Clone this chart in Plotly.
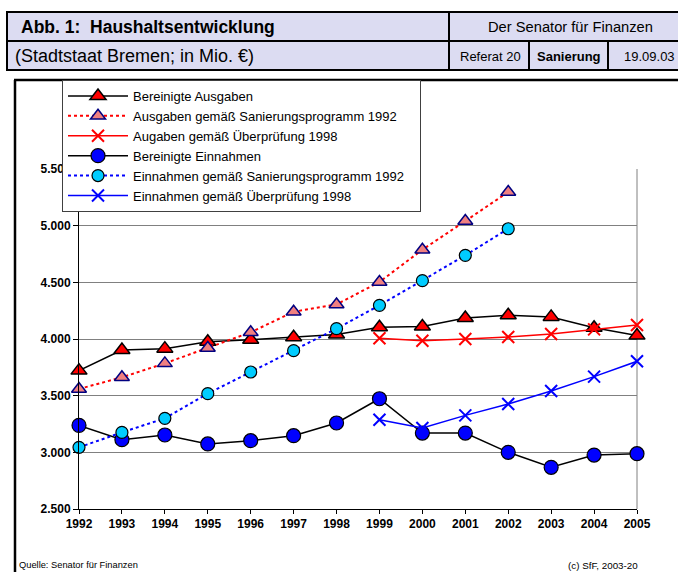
import plotly.graph_objects as go

years = list(range(1992, 2006))
years_san = list(range(1992, 2003))
years_98 = list(range(1999, 2006))

ausgaben = [3721, 3903, 3915, 3976, 3994, 4015, 4040, 4103, 4110, 4186, 4209, 4195, 4100, 4030]
ausgaben_san = [3559, 3662, 3785, 3921, 4059, 4240, 4305, 4503, 4788, 5041, 5297]
ausgaben_98 = [4006, 3985, 4000, 4018, 4044, 4085, 4124]
einnahmen = [3238, 3112, 3153, 3074, 3103, 3147, 3259, 3473, 3170, 3170, 3000, 2868, 2976, 2988]
einnahmen_san = [3044, 3176, 3300, 3518, 3709, 3897, 4091, 4297, 4515, 4738, 4973]
einnahmen_98 = [3288, 3215, 3326, 3426, 3541, 3668, 3803]

ytick_vals = [2500, 3000, 3500, 4000, 4500, 5000, 5500]
ytick_text = ["2.500", "3.000", "3.500", "4.000", "4.500", "5.000", "5.500"]

W, H = 678, 572
L, R, T, B = 79, 637, 169, 509
FONT = "Liberation Sans, Arial"


def px(x):
    return (x - L) / (R - L)


def py(y):
    return (B - y) / (B - T)


fig = go.Figure()

fig.add_trace(go.Scatter(
    x=years, y=ausgaben, name="Bereinigte Ausgaben", mode="lines+markers",
    line=dict(color="black", width=1.5),
    marker=dict(symbol="triangle-up", size=14, color="#ff0000", line=dict(color="black", width=1.5)),
    legendgroup="a", cliponaxis=False))
fig.add_trace(go.Scatter(
    x=years_san, y=ausgaben_san, name="Ausgaben gemäß Sanierungsprogramm 1992", mode="lines+markers",
    line=dict(color="#ff0000", width=2, dash="dot"),
    marker=dict(symbol="triangle-up", size=13, color="#f08080", line=dict(color="#000080", width=1.5)),
    legendgroup="b", cliponaxis=False))
fig.add_trace(go.Scatter(
    x=years_98, y=ausgaben_98, name="Augaben gemäß Überprüfung 1998", mode="lines+markers",
    line=dict(color="#ff0000", width=1.5),
    marker=dict(symbol="x-thin-open", size=12, color="#ff0000", line=dict(color="#ff0000", width=2)),
    legendgroup="c", cliponaxis=False))
fig.add_trace(go.Scatter(
    x=years, y=einnahmen, name="Bereinigte Einnahmen", mode="lines+markers",
    line=dict(color="black", width=1.5),
    marker=dict(symbol="circle", size=14, color="#0000ff", line=dict(color="black", width=1.2)),
    legendgroup="d", cliponaxis=False))
fig.add_trace(go.Scatter(
    x=years_san, y=einnahmen_san,
    name="Einnahmen gemäß Sanierungsprogramm 1992\u00a0\u00a0\u00a0",
    mode="lines+markers",
    line=dict(color="#0000ff", width=2, dash="dot"),
    marker=dict(symbol="circle", size=12, color="#00ccff", line=dict(color="black", width=1.2)),
    legendgroup="e", cliponaxis=False))
fig.add_trace(go.Scatter(
    x=years_98, y=einnahmen_98, name="Einnahmen gemäß Überprüfung 1998", mode="lines+markers",
    line=dict(color="#0000ff", width=1.5),
    marker=dict(symbol="x-thin-open", size=12, color="#0000ff", line=dict(color="#0000ff", width=2)),
    legendgroup="f", cliponaxis=False))

shapes = []
hdr_fill = "#dcdcf2"
cells = [
    (7, 12, 449, 41), (449, 12, 690, 41),
    (7, 41, 449, 70), (449, 41, 529, 70), (529, 41, 608, 70), (608, 41, 690, 70),
]
for x0, y0, x1, y1 in cells:
    shapes.append(dict(type="rect", xref="paper", yref="paper",
                       x0=px(x0), x1=px(x1), y0=py(y1), y1=py(y0),
                       fillcolor=hdr_fill, opacity=1, line=dict(color="black", width=2), layer="above"))
shapes.append(dict(type="line", xref="paper", yref="paper", x0=px(14), x1=px(690), y0=py(80), y1=py(80),
                   line=dict(color="black", width=2.5)))
shapes.append(dict(type="line", xref="paper", yref="paper", x0=px(15), x1=px(15), y0=py(80), y1=py(600),
                   line=dict(color="black", width=2.5)))
shapes.append(dict(type="line", xref="paper", yref="paper", x0=1, x1=1, y0=0, y1=1,
                   line=dict(color="#808080", width=1), layer="below"))

annotations = [
    dict(text="<b>Abb. 1:  Haushaltsentwicklung</b>", x=px(19), y=py(27), xanchor="left", yanchor="middle",
         font=dict(size=17.5, family=FONT, color="black")),
    dict(text="(Stadtstaat Bremen; in Mio. €)", x=px(13), y=py(56), xanchor="left", yanchor="middle",
         font=dict(size=18, family=FONT, color="black")),
    dict(text="Der Senator für Finanzen", x=px(570), y=py(27), xanchor="center", yanchor="middle",
         font=dict(size=14.7, family=FONT, color="black")),
    dict(text="Referat 20", x=px(490), y=py(56), xanchor="center", yanchor="middle",
         font=dict(size=13, family=FONT, color="black")),
    dict(text="<b>Sanierung</b>", x=px(569), y=py(56), xanchor="center", yanchor="middle",
         font=dict(size=13, family=FONT, color="black")),
    dict(text="19.09.03", x=px(649), y=py(56), xanchor="center", yanchor="middle",
         font=dict(size=13, family=FONT, color="black")),
    dict(text="Quelle: Senator für Finanzen", x=px(17), y=py(565), xanchor="left", yanchor="middle",
         font=dict(size=9.3, family=FONT, color="black")),
    dict(text="(c) SfF, 2003-20", x=px(640), y=py(565), xanchor="right", yanchor="middle",
         font=dict(size=9.8, family=FONT, color="black")),
]
for a in annotations:
    a.update(xref="paper", yref="paper", showarrow=False)

fig.update_layout(
    width=W, height=H,
    margin=dict(l=L, r=W - R, t=T, b=H - B, pad=0),
    paper_bgcolor="white", plot_bgcolor="white",
    font=dict(family=FONT, size=12, color="black"),
    showlegend=True,
    legend=dict(x=px(62), y=py(80), xanchor="left", yanchor="top",
                bgcolor="white", bordercolor="#404040", borderwidth=1,
                font=dict(size=13, family=FONT, color="black"),
                itemwidth=60, tracegroupgap=1, traceorder="normal"),
    xaxis=dict(range=[1992, 2005], tickvals=years, ticktext=[f"<b>{y}</b>" for y in years],
               showgrid=False, zeroline=False, showline=True, linecolor="black", linewidth=1,
               ticks="outside", ticklen=4, tickcolor="black",
               tickfont=dict(size=12, family=FONT, color="black")),
    yaxis=dict(range=[2500, 5500], tickvals=ytick_vals, ticktext=[f"<b>{t}</b>" for t in ytick_text],
               showgrid=True, gridcolor="#808080", gridwidth=1, zeroline=False,
               showline=True, linecolor="black", linewidth=1,
               ticks="outside", ticklen=5, tickcolor="black",
               tickfont=dict(size=12, family=FONT, color="black")),
    shapes=shapes,
    annotations=annotations,
)

fig.write_html("out.html", config={"displayModeBar": False},
               post_script="document.body.style.margin='0';document.body.style.overflow='hidden';")
